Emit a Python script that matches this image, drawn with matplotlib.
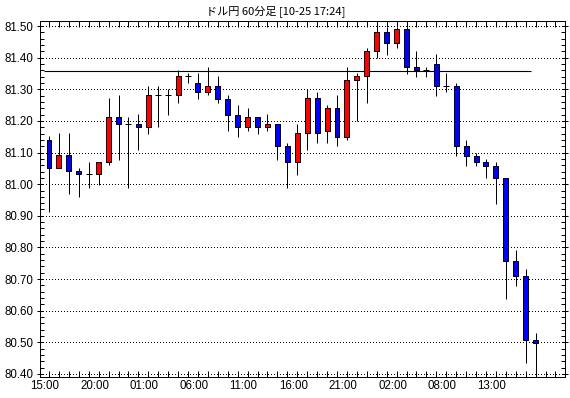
import matplotlib
matplotlib.use('Agg')
import matplotlib.pyplot as plt
import matplotlib.transforms as mtransforms
from matplotlib.ticker import MultipleLocator, FixedLocator, FixedFormatter
import numpy as np

title = 'ドル円 60分足 [10-25 17:24]'

opens = [81.139, 81.050, 81.091, 81.042, 81.031, 81.031, 81.070, 81.211, 81.189, 81.189,
         81.180, 81.281, 81.281, 81.281, 81.341, 81.319, 81.290, 81.310, 81.270, 81.220,
         81.180, 81.211, 81.180, 81.189, 81.120, 81.069, 81.161, 81.271, 81.169, 81.240,
         81.150, 81.328, 81.341, 81.420, 81.480, 81.447, 81.489, 81.369, 81.360, 81.379,
         81.309, 81.309, 81.120, 81.090, 81.069, 81.058, 81.021, 80.758, 80.709, 80.506]
highs = [81.152, 81.162, 81.162, 81.050, 81.070, 81.070, 81.272, 81.282, 81.211, 81.222,
         81.310, 81.310, 81.301, 81.361, 81.351, 81.351, 81.370, 81.341, 81.281, 81.250,
         81.240, 81.211, 81.222, 81.189, 81.129, 81.189, 81.301, 81.290, 81.250, 81.282,
         81.370, 81.351, 81.429, 81.508, 81.498, 81.498, 81.498, 81.420, 81.369, 81.410,
         81.350, 81.319, 81.140, 81.100, 81.079, 81.069, 81.021, 80.791, 80.731, 80.530]
lows = [80.911, 81.050, 80.970, 80.960, 80.989, 80.999, 81.060, 81.077, 80.989, 81.109,
        81.160, 81.180, 81.220, 81.258, 81.319, 81.270, 81.281, 81.258, 81.169, 81.149,
        81.169, 81.160, 81.169, 81.077, 80.989, 81.029, 81.109, 81.129, 81.129, 81.120,
        81.139, 81.199, 81.258, 81.400, 81.409, 81.429, 81.348, 81.340, 81.340, 81.280,
        81.290, 81.090, 81.058, 81.058, 81.021, 80.938, 80.636, 80.677, 80.435, 80.400]
closes = [81.050, 81.091, 81.042, 81.031, 81.031, 81.070, 81.211, 81.189, 81.189, 81.180,
          81.281, 81.281, 81.281, 81.341, 81.341, 81.290, 81.310, 81.270, 81.220, 81.180,
          81.211, 81.180, 81.189, 81.120, 81.069, 81.161, 81.271, 81.161, 81.240, 81.150,
          81.328, 81.341, 81.420, 81.480, 81.447, 81.489, 81.369, 81.360, 81.360, 81.309,
          81.309, 81.120, 81.090, 81.069, 81.058, 81.021, 80.758, 80.709, 80.506, 80.497]

xtick_labels = ['15:00', '20:00', '01:00', '06:00', '11:00', '16:00', '21:00', '02:00', '08:00', '13:00']
xtick_step = 5
ytick_values = [80.40, 80.50, 80.60, 80.70, 80.80, 80.90, 81.00, 81.10, 81.20, 81.30, 81.40, 81.50]

ref_level = 81.357
ref_first_candle = 0
ref_last_candle = 48

W, H = 570, 398
fig = plt.figure(figsize=(W / 100, H / 100), dpi=100)
fig.patch.set_facecolor('white')
ax = fig.add_axes([40 / W, 1 - 377 / H, 525 / W, (377 - 20.7) / H])

px = 0.72  # one pixel in points
n = len(opens)
x = np.arange(n)
o = np.array(opens); h = np.array(highs); l = np.array(lows); c = np.array(closes)

ax.set_xlim(-0.906, 51.96)
ax.set_ylim(80.3905, 81.5168)

# grid
for yv in ytick_values:
    ax.axhline(yv, color='black', lw=px, linestyle=(0, (0.7, 2.3)), zorder=1, antialiased=False)

# reference line
ax.hlines(ref_level, ref_first_candle - 0.5, ref_last_candle + 0.5, color='black', lw=px * 1.1, zorder=2)

# wicks
ax.vlines(x, l, h, color='black', lw=px, zorder=3)

bw = 0.5
for i in range(n):
    if abs(c[i] - o[i]) < 1e-9:
        ax.hlines(o[i], x[i] - 0.3, x[i] + 0.3, color='black', lw=px, zorder=4)
    else:
        col = '#ff0000' if c[i] > o[i] else '#0000ff'
        lo = min(o[i], c[i]); hi = max(o[i], c[i])
        ax.bar(x[i], hi - lo, bottom=lo, width=bw, color=col, edgecolor='black',
               linewidth=px, zorder=4)

for s in ax.spines.values():
    s.set_linewidth(px)
    s.set_color('black')

# y axis
ax.yaxis.set_major_locator(FixedLocator(ytick_values))
ax.yaxis.set_major_formatter(FixedFormatter(['%.2f' % v for v in ytick_values]))
ax.yaxis.set_minor_locator(MultipleLocator(0.02))
ax.tick_params(axis='y', which='major', direction='inout', length=5, width=px,
               left=True, right=True, labelsize=8.3, pad=2.5)
ax.tick_params(axis='y', which='minor', direction='in', length=3, width=px,
               left=True, right=True)

# x axis
ax.xaxis.set_major_locator(FixedLocator(list(range(0, n, xtick_step))))
ax.xaxis.set_major_formatter(FixedFormatter(xtick_labels))
ax.xaxis.set_minor_locator(MultipleLocator(1))
ax.tick_params(axis='x', which='both', direction='in', length=4, width=px,
               top=True, bottom=True, labelsize=8.3, pad=2.5)

for lab in ax.get_xticklabels() + ax.get_yticklabels():
    lab.set_family(['Liberation Sans', 'DejaVu Sans'])
offset = mtransforms.ScaledTranslation(-4 / 100, 0, fig.dpi_scale_trans)
for lab in ax.get_xticklabels():
    lab.set_transform(lab.get_transform() + offset)

fig.text(276 / W, 1 - 11 / H, title, ha='center', va='center', fontsize=8,
         family=['Noto Sans CJK JP', 'DejaVu Sans'])

fig.savefig('out.png', dpi=100, facecolor='white')
